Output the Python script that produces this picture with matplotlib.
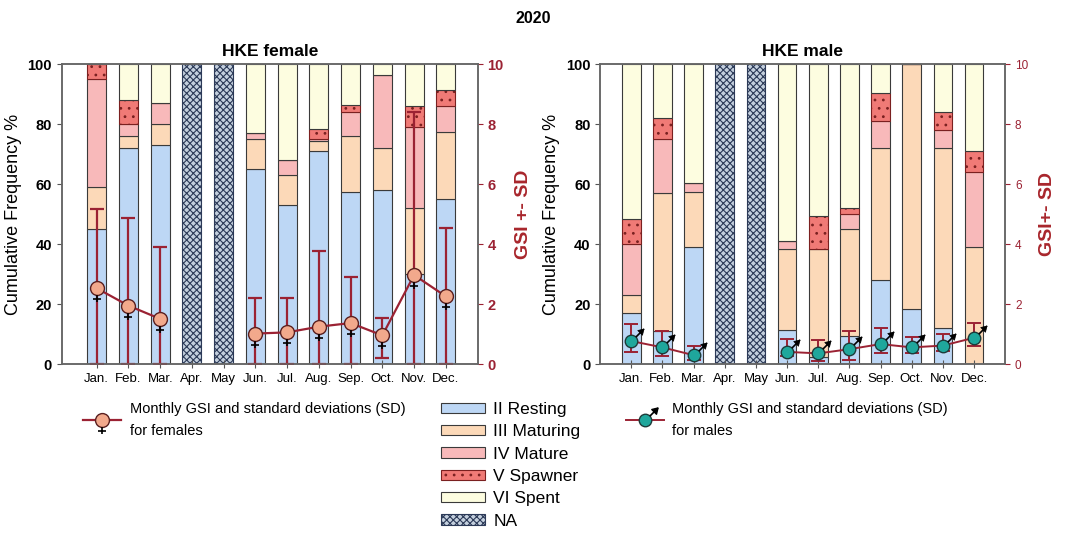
import numpy as np
import matplotlib
matplotlib.use('Agg')
import matplotlib.pyplot as plt
from matplotlib.path import Path
from matplotlib.patches import Patch
from matplotlib.lines import Line2D
from matplotlib.legend_handler import HandlerTuple

plt.rcParams['font.family'] = ['Liberation Sans', 'DejaVu Sans']
plt.rcParams['hatch.linewidth'] = 0.8

months = ['Jan.', 'Feb.', 'Mar.', 'Apr.', 'May', 'Jun.', 'Jul.', 'Aug.', 'Sep.', 'Oct.', 'Nov.', 'Dec.']
stages = ['II Resting', 'III Maturing', 'IV Mature', 'V Spawner', 'VI Spent']

# stage frequencies (%) per month, females
f_resting  = [45, 72, 73, 0, 0, 65, 53, 71, 57.5, 58, 30, 55]
f_maturing = [14, 4, 7, 0, 0, 10, 10, 3.5, 18.5, 14, 22, 22.5]
f_mature   = [36, 4, 7, 0, 0, 2, 5, 0.5, 8, 24.5, 27, 8.5]
f_spawner  = [5, 8, 0, 0, 0, 0, 0, 3.5, 2.5, 0, 7, 5.5]
f_spent    = [0, 12, 13, 0, 0, 23, 32, 21.5, 13.5, 3.5, 14, 8.5]
f_na       = [0, 0, 0, 100, 100, 0, 0, 0, 0, 0, 0, 0]

# stage frequencies (%) per month, males
m_resting  = [17, 11, 39, 0, 0, 11.5, 2.5, 9.5, 28, 18.5, 12, 0]
m_maturing = [6, 46, 18.5, 0, 0, 27, 36, 35.5, 44, 81.5, 60, 39]
m_mature   = [17, 18, 3, 0, 0, 2.5, 0, 5, 9, 0, 6, 25]
m_spawner  = [8.5, 7, 0, 0, 0, 0, 11, 2, 9.5, 0, 6, 7]
m_spent    = [51.5, 18, 39.5, 0, 0, 59, 50.5, 48, 9.5, 0, 16, 29]
m_na       = [0, 0, 0, 100, 100, 0, 0, 0, 0, 0, 0, 0]

# monthly GSI with SD bounds
gsi_f      = [2.53, 1.95, 1.51, np.nan, np.nan, 1.02, 1.06, 1.25, 1.37, 0.96, 2.97, 2.26]
gsi_f_low  = [0, 0, 0, np.nan, np.nan, 0, 0, 0, 0, 0.21, 0, 0]
gsi_f_high = [5.18, 4.88, 3.92, np.nan, np.nan, 2.2, 2.2, 3.76, 2.91, 1.53, 8.39, 4.55]

gsi_m      = [0.77, 0.56, 0.30, np.nan, np.nan, 0.41, 0.36, 0.50, 0.67, 0.56, 0.62, 0.88]
gsi_m_low  = [0.41, 0.27, 0.13, np.nan, np.nan, 0.27, 0.11, 0.13, 0.38, 0.38, 0.44, 0.60]
gsi_m_high = [1.33, 1.10, 0.61, np.nan, np.nan, 0.83, 0.82, 1.10, 1.19, 0.91, 1.00, 1.38]

stage_colors = ['#bdd7f5', '#fcd9b8', '#f8b9ba', '#f07a76', '#fdfde0']
na_face = '#c4d0de'
dark_red = '#9b2233'

female_mark = Path([(0, -0.5), (0, -1.0), (-0.32, -0.8), (0.32, -0.8)],
                   [Path.MOVETO, Path.LINETO, Path.MOVETO, Path.LINETO])
arrow_shaft = Path([(0.35, 0.35), (1.0, 1.0)], [Path.MOVETO, Path.LINETO])
arrow_head = Path([(1.0, 1.0), (0.5, 0.88), (0.88, 0.5), (1.0, 1.0)],
                  [Path.MOVETO, Path.LINETO, Path.LINETO, Path.CLOSEPOLY])


def stacked_bars(ax, data, na):
    x = np.arange(len(months))
    bottom = np.zeros(len(months))
    for vals, col in zip(data, stage_colors):
        vals = np.array(vals, dtype=float)
        hatch = '..' if col == '#f07a76' else None
        ec = '#7a2020' if hatch else '#3a3a3a'
        ax.bar(x, vals, 0.6, bottom=bottom, color=col, edgecolor=ec,
               linewidth=0.8, hatch=hatch)
        bottom += vals
    ax.bar(x, na, 0.6, color=na_face, edgecolor='#2c3a58', linewidth=0.8, hatch='xxxxx')


def setup_axes(ax, title, xmin):
    ax.set_xlim(xmin, 12.0)
    ax.set_ylim(0, 100)
    ax.set_yticks(range(0, 101, 20))
    ax.set_xticks(np.arange(12))
    ax.set_xticklabels(months, fontsize=9.5)
    ax.tick_params(axis='x', direction='inout', length=6, color='#555555')
    ax.tick_params(axis='y', labelsize=10.5, color='#555555')
    for lab in ax.get_yticklabels():
        lab.set_fontweight('bold')
    ax.set_ylabel('Cumulative Frequency %', fontsize=13)
    ax.set_title(title, fontsize=12.5, fontweight='bold', pad=6)
    for sp in ax.spines.values():
        sp.set_color('#666666')
        sp.set_linewidth(1.1)


fig = plt.figure(figsize=(10.66, 5.34), dpi=100)

# female panel
ax1 = fig.add_axes([0.058, 0.318, 0.39, 0.562])
stacked_bars(ax1, [f_resting, f_maturing, f_mature, f_spawner, f_spent], f_na)
setup_axes(ax1, 'HKE female', -1.1)

ax1r = ax1.twinx()
x = np.arange(12)
g = np.array(gsi_f)
ax1r.errorbar(x, g, yerr=[g - np.array(gsi_f_low), np.array(gsi_f_high) - g], fmt='none',
              ecolor=dark_red, elinewidth=1.6, capsize=5, capthick=1.6, zorder=2)
ax1r.plot(x, g, color=dark_red, lw=1.6, marker='o', ms=10, mfc='#f2a98c', mec='#5a2020',
          mew=1.0, zorder=3)
ax1r.plot(x, g, ls='none', marker=female_mark, ms=20, mfc='none', mec='black', mew=1.2, zorder=3)
ax1r.set_ylim(0, 10)
ax1r.set_yticks(range(0, 11, 2))
ax1r.tick_params(axis='y', colors=dark_red, labelsize=10.5)
for lab in ax1r.get_yticklabels():
    lab.set_fontweight('bold')
ax1r.set_ylabel('GSI +- SD', color='#a8262c', fontsize=14, fontweight='bold', labelpad=8)
for sp in ax1r.spines.values():
    sp.set_color('#666666')
    sp.set_linewidth(1.1)

# male panel
ax2 = fig.add_axes([0.563, 0.318, 0.380, 0.562])
stacked_bars(ax2, [m_resting, m_maturing, m_mature, m_spawner, m_spent], m_na)
setup_axes(ax2, 'HKE male', -1.0)

ax2r = ax2.twinx()
g = np.array(gsi_m)
ax2r.errorbar(x, g, yerr=[g - np.array(gsi_m_low), np.array(gsi_m_high) - g], fmt='none',
              ecolor=dark_red, elinewidth=1.4, capsize=5, capthick=1.4, zorder=2)
ax2r.plot(x, g, color=dark_red, lw=1.4, marker='o', ms=9, mfc='#1fa79c', mec='#1d3c3a',
          mew=1.0, zorder=3)
ax2r.plot(x, g, ls='none', marker=arrow_shaft, ms=18, mfc='none', mec='black', mew=1.2, zorder=3)
ax2r.plot(x, g, ls='none', marker=arrow_head, ms=18, mfc='black', mec='black', mew=0.5, zorder=3)
ax2r.set_ylim(0, 10)
ax2r.set_yticks(range(0, 11, 2))
ax2r.tick_params(axis='y', colors=dark_red, labelsize=8.5)
ax2r.set_ylabel('GSI+- SD', color='#a8262c', fontsize=14, fontweight='bold', labelpad=8)
for sp in ax2r.spines.values():
    sp.set_color('#666666')
    sp.set_linewidth(1.1)

fig.text(0.5, 0.965, '2020', ha='center', va='center', fontsize=11.5, fontweight='bold')

# legends
f_handle = (Line2D([], [], color=dark_red, lw=1.6, marker='o', ms=10, mfc='#f2a98c', mec='#5a2020'),
            Line2D([], [], ls='none', marker=female_mark, ms=20, mfc='none', mec='black', mew=1.2))
m_handle = (Line2D([], [], color=dark_red, lw=1.4, marker='o', ms=9, mfc='#1fa79c', mec='#1d3c3a'),
            Line2D([], [], ls='none', marker=arrow_shaft, ms=18, mfc='none', mec='black', mew=1.2),
            Line2D([], [], ls='none', marker=arrow_head, ms=18, mfc='black', mec='black'))

leg_f = fig.legend([f_handle], ['Monthly GSI and standard deviations (SD)\nfor females'],
                   handler_map={tuple: HandlerTuple(ndivide=1)}, loc='upper left',
                   bbox_to_anchor=(0.078, 0.247), frameon=False, fontsize=10.5,
                   handlelength=2.6, handletextpad=0.6, borderpad=0, borderaxespad=0)
leg_m = fig.legend([m_handle], ['Monthly GSI and standard deviations (SD)\nfor males'],
                   handler_map={tuple: HandlerTuple(ndivide=1)}, loc='upper left',
                   bbox_to_anchor=(0.587, 0.247), frameon=False, fontsize=10.5,
                   handlelength=2.6, handletextpad=0.6, borderpad=0, borderaxespad=0)
for leg in (leg_f, leg_m):
    for t in leg.get_texts():
        t.set_linespacing(1.7)

stage_handles = []
for col in stage_colors:
    if col == '#f07a76':
        stage_handles.append(Patch(facecolor=col, edgecolor='#7a2020', hatch='..', lw=0.8))
    else:
        stage_handles.append(Patch(facecolor=col, edgecolor='#3a3a3a', lw=0.8))
stage_handles.append(Patch(facecolor=na_face, edgecolor='#2c3a58', hatch='xxxxx', lw=0.8))
fig.legend(stage_handles, stages + ['NA'], loc='upper left', bbox_to_anchor=(0.414, 0.247),
           frameon=False, fontsize=12.5, handlelength=2.5, handleheight=0.55,
           labelspacing=0.42, handletextpad=0.5, borderpad=0, borderaxespad=0)

fig.savefig('out.png', dpi=100)
